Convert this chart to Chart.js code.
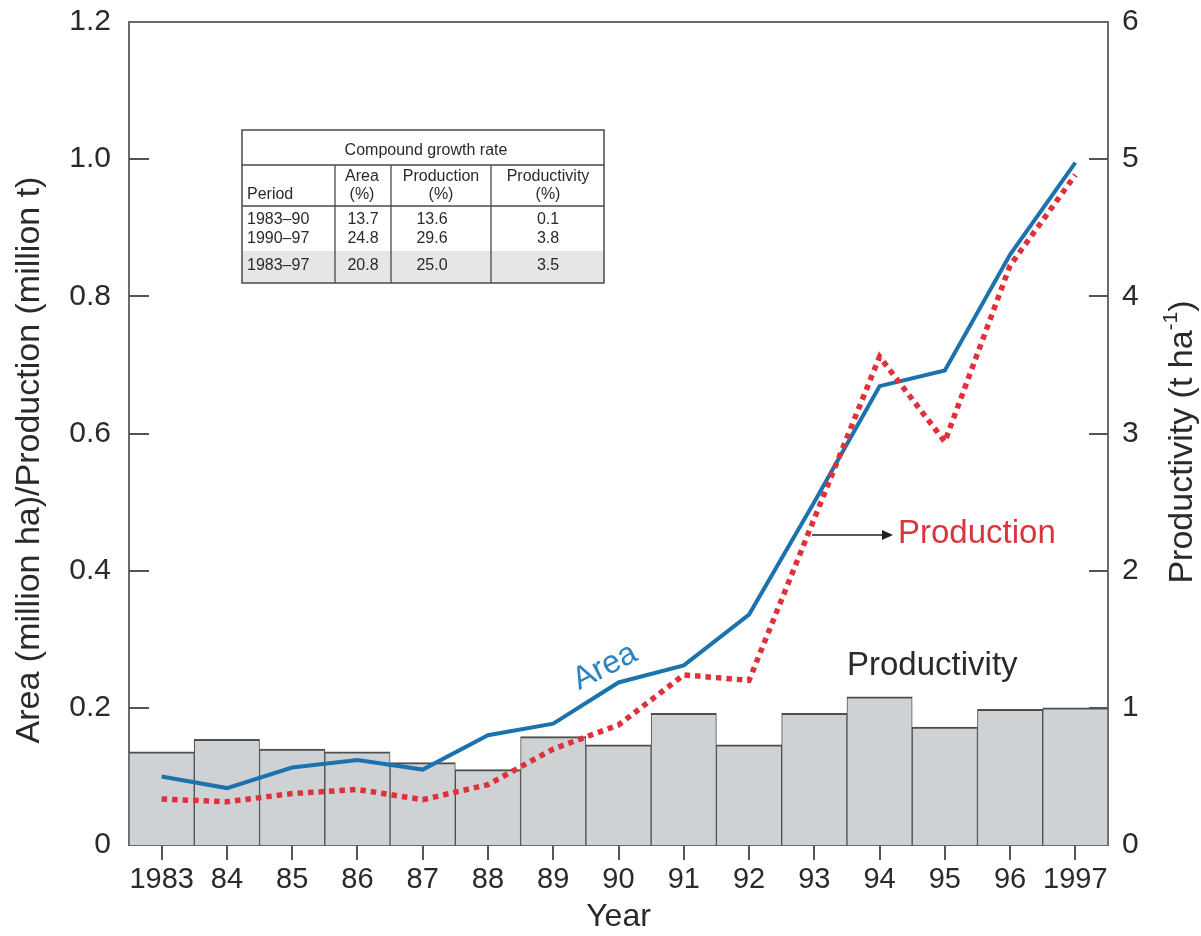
<!DOCTYPE html>
<html>
<head>
<meta charset="utf-8">
<script src="https://cdn.jsdelivr.net/npm/chart.js@4/dist/chart.umd.min.js"></script>
<style>
  html, body { margin: 0; padding: 0; background: #ffffff; }
  #wrap { width: 1201px; height: 936px; }
</style>
</head>
<body>
<div id="wrap"><canvas id="c" width="1201" height="936"></canvas></div>
<script>
// Years on the horizontal axis
const years = ['1983', '84', '85', '86', '87', '88', '89', '90', '91', '92', '93', '94', '95', '96', '1997'];
// Area (million ha)
const areaValues = [0.100, 0.083, 0.113, 0.124, 0.110, 0.160, 0.177, 0.237, 0.262, 0.336, 0.500, 0.669, 0.692, 0.861, 0.995];
// Production (million t)
const productionValues = [0.067, 0.063, 0.075, 0.081, 0.066, 0.088, 0.140, 0.175, 0.248, 0.240, 0.476, 0.712, 0.588, 0.845, 0.977];
// Productivity (t/ha)
const productivityValues = [0.68, 0.77, 0.70, 0.68, 0.60, 0.55, 0.79, 0.73, 0.96, 0.73, 0.96, 1.08, 0.86, 0.99, 1.00];

// Inset table: compound growth rate
const tablePeriods = ['1983\u201390', '1990\u201397', '1983\u201397'];
const tableArea = ['13.7', '24.8', '20.8'];
const tableProduction = ['13.6', '29.6', '25.0'];
const tableProductivity = ['0.1', '3.8', '3.5'];

const FONT = "'Liberation Sans', Arial, Helvetica, sans-serif";
const AXIS_COLOR = '#6a6a6a';
const TEXT_COLOR = '#2a2a2a';

// Inward tick marks on both value axes, top frame line, inset table and in-plot labels
const decorations = {
  id: 'decorations',
  afterDraw(chart) {
    const ctx = chart.ctx;
    const { left, right, top } = chart.chartArea;
    const yL = chart.scales.y;
    const yR = chart.scales.y1;

    ctx.save();
    // top frame line
    ctx.strokeStyle = AXIS_COLOR;
    ctx.lineWidth = 2;
    ctx.beginPath();
    ctx.moveTo(left - 1, top);
    ctx.lineTo(right + 1, top);
    ctx.stroke();

    // inward ticks
    ctx.strokeStyle = '#555';
    ctx.lineWidth = 2;
    yL.ticks.forEach(t => {
      if (t.value <= 0 || t.value >= 1.2) return;
      const py = Math.round(yL.getPixelForValue(t.value));
      ctx.beginPath(); ctx.moveTo(left, py); ctx.lineTo(left + 20, py); ctx.stroke();
    });
    yR.ticks.forEach(t => {
      if (t.value <= 0 || t.value >= 6) return;
      const py = Math.round(yR.getPixelForValue(t.value));
      ctx.beginPath(); ctx.moveTo(right, py); ctx.lineTo(right - 19, py); ctx.stroke();
    });

    // axis titles
    ctx.fillStyle = TEXT_COLOR;
    ctx.textAlign = 'center';
    ctx.textBaseline = 'middle';
    ctx.font = '34px ' + FONT;
    ctx.save();
    ctx.translate(30, 460);
    ctx.rotate(-Math.PI / 2);
    ctx.fillText('Area (million ha)/Production (million t)', 0, 0);
    ctx.restore();

    ctx.save();
    ctx.translate(1180, 442);
    ctx.rotate(-Math.PI / 2);
    const mainPart = 'Productivity (t ha';
    const supPart = '-1';
    const endPart = ')';
    ctx.font = '34px ' + FONT;
    const w1 = ctx.measureText(mainPart).width;
    const w3 = ctx.measureText(endPart).width;
    ctx.font = '21px ' + FONT;
    const w2 = ctx.measureText(supPart).width;
    let x = -(w1 + w2 + w3) / 2;
    ctx.textAlign = 'left';
    ctx.textBaseline = 'alphabetic';
    ctx.font = '34px ' + FONT;
    ctx.fillText(mainPart, x, 12);
    x += w1;
    ctx.font = '21px ' + FONT;
    ctx.fillText(supPart, x, -3);
    x += w2;
    ctx.font = '34px ' + FONT;
    ctx.fillText(endPart, x, 12);
    ctx.restore();

    // in-plot labels
    ctx.save();
    ctx.translate(605, 667);
    ctx.rotate(-27 * Math.PI / 180);
    ctx.fillStyle = '#2a84c2';
    ctx.font = '32px ' + FONT;
    ctx.textAlign = 'center';
    ctx.textBaseline = 'middle';
    ctx.fillText('Area', 0, 0);
    ctx.restore();

    ctx.textAlign = 'left';
    ctx.textBaseline = 'alphabetic';
    ctx.fillStyle = '#d8363c';
    ctx.font = '33px ' + FONT;
    ctx.fillText('Production', 898, 543);

    ctx.fillStyle = TEXT_COLOR;
    ctx.fillText('Productivity', 847, 675);

    // arrow pointing to the Production label
    ctx.strokeStyle = '#222';
    ctx.fillStyle = '#222';
    ctx.lineWidth = 1.5;
    ctx.beginPath(); ctx.moveTo(812, 535); ctx.lineTo(884, 535); ctx.stroke();
    ctx.beginPath(); ctx.moveTo(893, 535); ctx.lineTo(882, 530); ctx.lineTo(882, 540); ctx.closePath(); ctx.fill();

    // inset table
    const tx0 = 242, ty0 = 130, tx1 = 604, ty1 = 283;
    const titleSep = 165, headSep = 206, shadeTop = 251;
    const colX = [335, 391, 491];
    ctx.fillStyle = '#ffffff';
    ctx.fillRect(tx0, ty0, tx1 - tx0, ty1 - ty0);
    ctx.fillStyle = '#e6e6e6';
    ctx.fillRect(tx0, shadeTop, tx1 - tx0, ty1 - shadeTop);

    ctx.strokeStyle = '#4a4a4a';
    ctx.lineWidth = 1.5;
    ctx.strokeRect(tx0, ty0, tx1 - tx0, ty1 - ty0);
    ctx.lineWidth = 1.3;
    ctx.beginPath();
    ctx.moveTo(tx0, titleSep); ctx.lineTo(tx1, titleSep);
    ctx.moveTo(tx0, headSep); ctx.lineTo(tx1, headSep);
    colX.forEach(cx => { ctx.moveTo(cx, titleSep); ctx.lineTo(cx, ty1); });
    ctx.stroke();

    ctx.fillStyle = '#2a2a2a';
    ctx.font = '16px ' + FONT;
    ctx.textBaseline = 'middle';
    ctx.textAlign = 'center';
    ctx.fillText('Compound growth rate', 426, 151);
    ctx.textAlign = 'left';
    ctx.fillText('Period', 247, 195);
    ctx.textAlign = 'center';
    ctx.fillText('Area', 362, 177);
    ctx.fillText('(%)', 362, 195);
    ctx.fillText('Production', 441, 177);
    ctx.fillText('(%)', 441, 195);
    ctx.fillText('Productivity', 548, 177);
    ctx.fillText('(%)', 548, 195);

    const rowY = [220, 239, 266];
    tablePeriods.forEach((p, i) => {
      ctx.textAlign = 'left';
      ctx.fillText(p, 247, rowY[i]);
      ctx.textAlign = 'center';
      ctx.fillText(tableArea[i], 363, rowY[i]);
      ctx.fillText(tableProduction[i], 432, rowY[i]);
      ctx.fillText(tableProductivity[i], 548, rowY[i]);
    });

    ctx.restore();
  }
};

new Chart(document.getElementById('c'), {
  type: 'bar',
  data: {
    labels: years,
    datasets: [
      {
        type: 'line',
        label: 'Production',
        data: productionValues,
        yAxisID: 'y',
        borderColor: '#e0313b',
        borderWidth: 5.5,
        borderDash: [5.5, 5],
        borderCapStyle: 'butt',
        pointRadius: 0,
        tension: 0,
        fill: false,
        order: 0
      },
      {
        type: 'line',
        label: 'Area',
        data: areaValues,
        yAxisID: 'y',
        borderColor: '#1b72ad',
        borderWidth: 4,
        pointRadius: 0,
        tension: 0,
        fill: false,
        order: 1
      },
      {
        type: 'bar',
        label: 'Productivity',
        data: productivityValues,
        yAxisID: 'y1',
        backgroundColor: '#cfd2d5',
        borderColor: '#4e4e4e',
        borderWidth: { top: 2, left: 1, right: 1, bottom: 0 },
        borderSkipped: 'bottom',
        barPercentage: 1,
        categoryPercentage: 1,
        order: 2
      }
    ]
  },
  options: {
    responsive: false,
    animation: false,
    devicePixelRatio: 1,
    layout: { padding: { top: 22, left: 0, right: 0, bottom: 0 } },
    plugins: {
      legend: { display: false },
      tooltip: { enabled: false }
    },
    scales: {
      x: {
        offset: true,
        grid: { display: true, offset: false, drawOnChartArea: false, drawTicks: true, tickLength: 15, color: '#555', lineWidth: 2 },
        border: { display: true, color: AXIS_COLOR, width: 2 },
        ticks: { font: { family: FONT, size: 29 }, color: TEXT_COLOR, padding: 3, maxRotation: 0, autoSkip: false },
        title: { display: true, text: 'Year', font: { family: FONT, size: 32 }, color: TEXT_COLOR, padding: { top: 0, bottom: 0 } },
        afterFit: s => { s.height = 91; s.paddingLeft = 0; s.paddingRight = 0; }
      },
      y: {
        position: 'left',
        min: 0,
        max: 1.2,
        grid: { display: false },
        border: { display: true, color: AXIS_COLOR, width: 2 },
        ticks: {
          stepSize: 0.2,
          font: { family: FONT, size: 30 },
          color: TEXT_COLOR,
          padding: 10,
          callback: v => (v === 0 ? '0' : v.toFixed(1))
        },
        afterFit: s => { s.width = 129; s.paddingTop = 0; s.paddingBottom = 0; }
      },
      y1: {
        position: 'right',
        min: 0,
        max: 6,
        grid: { display: false },
        border: { display: true, color: AXIS_COLOR, width: 2 },
        ticks: { stepSize: 1, font: { family: FONT, size: 30 }, color: TEXT_COLOR, padding: 6 },
        afterFit: s => { s.width = 93; s.paddingTop = 0; s.paddingBottom = 0; }
      }
    }
  },
  plugins: [decorations]
});
</script>
</body>
</html>
